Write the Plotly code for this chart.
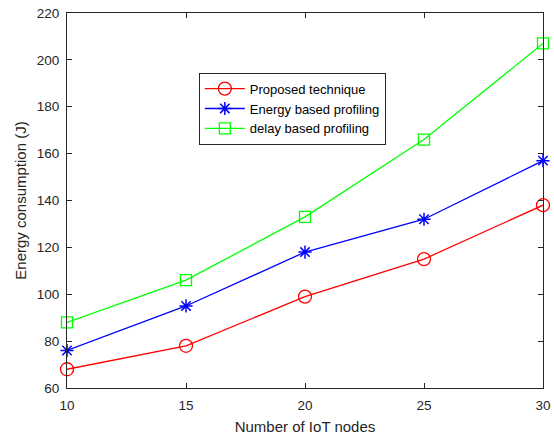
import plotly.graph_objects as go

nodes = [10, 15, 20, 25, 30]
proposed = [68, 78, 99, 115, 138]
energy_based = [76, 95, 118, 132, 157]
delay_based = [88, 106, 133, 166, 207]

FONT = "Liberation Sans, Arial, sans-serif"
fig = go.Figure()
fig.add_trace(go.Scatter(x=nodes, y=proposed, mode="lines+markers", name="Proposed technique",
                         cliponaxis=False, line=dict(color="#ff0000", width=1.3),
                         marker=dict(symbol="circle-open", size=13, color="#ff0000", line=dict(width=1.3))))
fig.add_trace(go.Scatter(x=nodes, y=energy_based, mode="lines+markers", name="Energy based profiling",
                         cliponaxis=False, line=dict(color="#0000ff", width=1.3),
                         marker=dict(symbol="asterisk-open", size=11, color="#0000ff", line=dict(width=1.5, color="#0000ff"))))
fig.add_trace(go.Scatter(x=nodes, y=delay_based, mode="lines+markers", name="delay based profiling",
                         cliponaxis=False, line=dict(color="#00ff00", width=1.3),
                         marker=dict(symbol="square-open", size=11, color="#00ff00", line=dict(width=1.3))))

axis_common = dict(showgrid=False, zeroline=False, showline=True, linecolor="#262626", linewidth=1,
                   mirror="ticks", ticks="inside", ticklen=5, tickcolor="#262626", automargin=False,
                   tickfont=dict(family=FONT, size=13.5, color="#262626"))
fig.update_xaxes(range=[10, 30], tickvals=[10, 15, 20, 25, 30], ticklabelstandoff=5,
                 title=dict(text="Number of IoT nodes", font=dict(family=FONT, size=15, color="#262626"), standoff=9),
                 **axis_common)
fig.update_yaxes(range=[60, 220], tickvals=list(range(60, 221, 20)), ticklabelstandoff=4,
                 title=dict(text="Energy consumption (J)", font=dict(family=FONT, size=15, color="#262626"), standoff=6),
                 **axis_common)
fig.update_layout(width=554, height=437, margin=dict(l=67, r=11, t=13, b=49),
                  paper_bgcolor="white", plot_bgcolor="white",
                  legend=dict(x=0.277, y=0.841, xanchor="left", yanchor="top",
                              bordercolor="#262626", borderwidth=1, bgcolor="white",
                              font=dict(family=FONT, size=13, color="#000000"),
                              tracegroupgap=0, itemwidth=40))
fig.write_html("out.html", config={"displayModeBar": False},
               post_script="document.body.style.margin='0';document.body.style.overflow='hidden';")
